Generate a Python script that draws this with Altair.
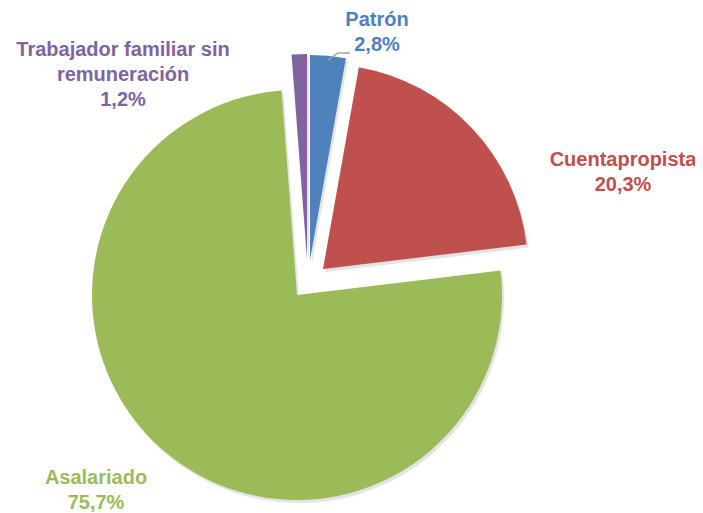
import math
import altair as alt
import pandas as pd

# ---- data ----
categories = ["Patrón", "Cuentapropista", "Asalariado", "Trabajador familiar sin remuneración"]
shares = [2.8, 20.3, 75.7, 1.2]
pct_labels = ["2,8%", "20,3%", "75,7%", "1,2%"]
label_lines = ["Patrón", "Cuentapropista", "Asalariado", "Trabajador familiar sin\nremuneración"]

# ---- styling ----
colors = ["#4F81BD", "#C0504D", "#9BBB59", "#8064A2"]
CX, CY, R = 289, 287, 205
explode_dx = [13, 26, 0, 10]
explode_dy = [-35, -26, 0, -36]
label_x = [369, 615, 88, 115]
label_y = [12, 152, 470, 42]   # centre of first line
leader_x = [342, 330, 320]
leader_y = [45, 45, 52]

W, H = 687, 505

df = pd.DataFrame({
    "cat": categories,
    "share": shares,
    "order": list(range(len(categories))),
    "dx": explode_dx,
    "dy": explode_dy,
})

color_scale = alt.Scale(domain=categories, range=colors)

base = alt.Chart(df).transform_window(
    cum="sum(share)", sort=[alt.SortField("order")], frame=[None, 0]
).transform_calculate(
    start="datum.cum - datum.share",
    px=f"{CX} + datum.dx",
    py=f"{CY} + datum.dy",
)

theta_scale = alt.Scale(domain=[0, 100], range=[0, 2 * math.pi])

shadow = base.mark_arc(outerRadius=R, opacity=0.10, color="#000000",
                       stroke="#000000", strokeWidth=5, strokeOpacity=0.06,
                       xOffset=2, yOffset=3).encode(
    x=alt.X("px:Q", scale=None),
    y=alt.Y("py:Q", scale=None),
    theta=alt.Theta("start:Q", scale=theta_scale),
    theta2="cum:Q",
)

slices = base.mark_arc(outerRadius=R).encode(
    x=alt.X("px:Q", scale=None),
    y=alt.Y("py:Q", scale=None),
    theta=alt.Theta("start:Q", scale=theta_scale),
    theta2="cum:Q",
    color=alt.Color("cat:N", scale=color_scale, legend=None),
)

lab_df = pd.DataFrame({
    "cat": categories,
    "txt": [f"{a}\n{b}" for a, b in zip(label_lines, pct_labels)],
    "lx": label_x,
    "ly": label_y,
})

labels = alt.Chart(lab_df).mark_text(
    font="Liberation Sans", fontWeight="bold", fontSize=20,
    lineBreak="\n", lineHeight=25, align="center", baseline="middle",
).encode(
    x=alt.X("lx:Q", scale=None),
    y=alt.Y("ly:Q", scale=None),
    text="txt:N",
    color=alt.Color("cat:N", scale=color_scale, legend=None),
)

lead_df = pd.DataFrame({"x": leader_x, "y": leader_y, "i": [0, 1, 2]})
leader = alt.Chart(lead_df).mark_line(color="#A6A6A6", strokeWidth=1.5).encode(
    x=alt.X("x:Q", scale=None),
    y=alt.Y("y:Q", scale=None),
    order="i:Q",
)

chart = alt.layer(shadow, slices, leader, labels).properties(
    width=W, height=H, padding=0,
    autosize=alt.AutoSizeParams(type="none"),
).configure_view(stroke=None)

chart.save("out.html", embed_options={"renderer": "svg", "actions": False})
